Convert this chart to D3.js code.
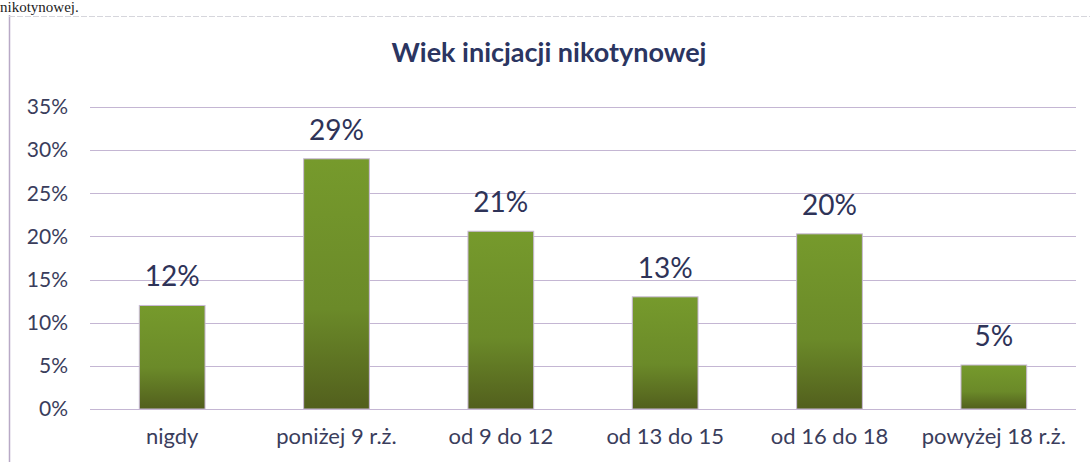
<!DOCTYPE html>
<html>
<head>
<meta charset="utf-8">
<script src="https://cdn.jsdelivr.net/npm/d3@7"></script>
<style>
  body { margin: 0; background: #fff; }
  svg { display: block; }
</style>
</head>
<body>
<svg id="chart"></svg>
<script>
/* data */
var categories = ["nigdy", "poniżej 9 r.ż.", "od 9 do 12", "od 13 do 15", "od 16 do 18", "powyżej 18 r.ż."]
var values = [0.12, 0.29, 0.206, 0.13, 0.203, 0.051]
var value_labels = ["12%", "29%", "21%", "13%", "20%", "5%"]
var y_ticks = [0, 0.05, 0.10, 0.15, 0.20, 0.25, 0.30, 0.35]
var title = "Wiek inicjacji nikotynowej"
var page_text = "nikotynowej."

var width = 1090
var height = 462

var plot_left = 90
var plot_right = 1076
var plot_top = 107
var plot_bottom = 409

var svg = d3.select("#chart")
    .attr("width", width)
    .attr("height", height)

/* gradient of the bars */
var defs = svg.append("defs")
var grad = defs.append("linearGradient")
    .attr("id", "barGrad")
    .attr("x1", 0).attr("y1", 0)
    .attr("x2", 0).attr("y2", 1)
grad.append("stop").attr("offset", "0%").attr("stop-color", "#769a2c")
grad.append("stop").attr("offset", "60%").attr("stop-color", "#6b8a29")
grad.append("stop").attr("offset", "100%").attr("stop-color", "#525f1d")

/* end of the document text above the chart */
svg.append("text")
    .attr("x", 0)
    .attr("y", 12)
    .attr("font-family", "Liberation Serif, serif")
    .attr("font-size", 15)
    .attr("fill", "#222")
    .text(page_text)

/* frame of the chart */
svg.append("line")
    .attr("x1", 9.5).attr("x2", 9.5)
    .attr("y1", 15).attr("y2", height)
    .attr("stroke", "#b8a9c6")
    .attr("stroke-width", 1.5)

svg.append("line")
    .attr("x1", 9).attr("x2", width)
    .attr("y1", 16.5).attr("y2", 16.5)
    .attr("stroke", "#d6d6dc")
    .attr("stroke-width", 1)
    .attr("stroke-dasharray", "6,2")

/* scales */
var x = d3.scaleBand()
    .domain(categories)
    .range([plot_left, plot_right])
    .paddingInner(0.6)
    .paddingOuter(0.3)

var y = d3.scaleLinear()
    .domain([0, 0.35])
    .range([plot_bottom, plot_top])

/* title */
svg.append("text")
    .attr("x", 549)
    .attr("y", 62)
    .attr("text-anchor", "middle")
    .attr("font-family", "Lato, sans-serif")
    .attr("font-weight", "bold")
    .attr("font-size", 27)
    .attr("fill", "#2b3561")
    .text(title)

/* grid */
svg.append("g")
    .selectAll("line")
    .data(y_ticks)
    .enter()
    .append("line")
    .attr("x1", plot_left)
    .attr("x2", plot_right)
    .attr("y1", function(d) { return Math.round(y(d)) + 0.5 })
    .attr("y2", function(d) { return Math.round(y(d)) + 0.5 })
    .attr("stroke", "#c4b6d3")
    .attr("stroke-width", 1.2)

/* y axis labels */
var yAxis = d3.axisLeft(y)
    .tickValues(y_ticks)
    .tickFormat(d3.format(".0%"))
    .tickSize(0)
    .tickPadding(0)

var gy = svg.append("g")
    .attr("transform", "translate(68,0)")
    .call(yAxis)
gy.select(".domain").remove()
gy.selectAll("text")
    .attr("font-family", "Lato, sans-serif")
    .attr("font-size", 21)
    .attr("fill", "#3a3d5c")

/* bars */
svg.append("g")
    .selectAll("rect")
    .data(values)
    .enter()
    .append("rect")
    .attr("x", function(d, i) { return x(categories[i]) })
    .attr("y", function(d) { return y(d) })
    .attr("width", x.bandwidth())
    .attr("height", function(d) { return y(0) - y(d) })
    .attr("fill", "url(#barGrad)")
    .attr("stroke", "#c9b9d6")
    .attr("stroke-width", 1)

/* value labels */
svg.append("g")
    .selectAll("text")
    .data(values)
    .enter()
    .append("text")
    .attr("x", function(d, i) { return x(categories[i]) + x.bandwidth() / 2 })
    .attr("y", function(d) { return y(d) - 19 })
    .attr("text-anchor", "middle")
    .attr("font-family", "Lato, sans-serif")
    .attr("font-size", 28)
    .attr("fill", "#2e3358")
    .text(function(d, i) { return value_labels[i] })

/* x axis labels */
var xAxis = d3.axisBottom(x)
    .tickSize(0)
    .tickPadding(0)

var gx = svg.append("g")
    .attr("transform", "translate(0,428)")
    .call(xAxis)
gx.select(".domain").remove()
gx.selectAll("text")
    .attr("font-family", "Lato, sans-serif")
    .attr("font-size", 22)
    .attr("fill", "#3a3d5c")
</script>
</body>
</html>
